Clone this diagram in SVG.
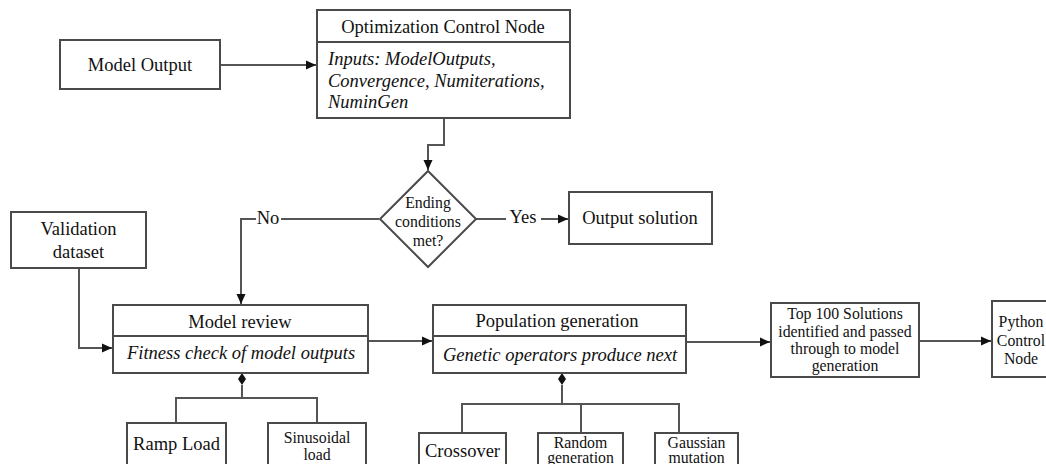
<svg xmlns="http://www.w3.org/2000/svg" width="1046" height="464" viewBox="0 0 1046 464">
<style>
.box{fill:#fff;stroke:#4a4a4a;stroke-width:2}
.ln{fill:none;stroke:#555;stroke-width:2}
text{font-family:'Liberation Serif','Times New Roman',serif;fill:#111;text-anchor:middle;dominant-baseline:central}
.l{font-size:18.5px}
.s{font-size:15.8px}
.i{font-style:italic;text-anchor:start}
.lbl{fill:#fff;stroke:none}
</style>
<defs>
<marker id="arr" markerUnits="userSpaceOnUse" markerWidth="12" markerHeight="10" refX="10" refY="5" orient="auto">
<path d="M0,0.5 L10,5 L0,9.5 z" fill="#111"/>
</marker>
</defs>
<rect width="1046" height="464" fill="#fff"/>

<g id="connectors">
<path class="ln" d="M220,65 H316" marker-end="url(#arr)"/>
<path class="ln" d="M444,118 V145 H428 V170" marker-end="url(#arr)"/>
<path class="ln" d="M379,219 H241 V304" marker-end="url(#arr)"/>
<rect class="lbl" x="256" y="208" width="25" height="22"/>
<text class="l" x="268" y="218">No</text>
<path class="ln" d="M476,219 H568" marker-end="url(#arr)"/>
<rect class="lbl" x="506" y="207" width="35" height="22"/>
<text class="l" x="523" y="217">Yes</text>
<path class="ln" d="M79,268 V348 H112" marker-end="url(#arr)"/>
<path class="ln" d="M368,341 H432" marker-end="url(#arr)"/>
<path class="ln" d="M686,342 H770" marker-end="url(#arr)"/>
<path class="ln" d="M919,341 H991" marker-end="url(#arr)"/>
<path class="ln" d="M242,385 V398 M176,423 V398 H317 V423"/>
<path d="M242,373 L246,379 L242,385 L238,379 z" fill="#111"/>
<path class="ln" d="M562,385 V404 M462,433 V404 H679 V433 M581,404 V433"/>
<path d="M562,373 L566,379 L562,385 L558,379 z" fill="#111"/>
</g>

<g id="model-output">
<rect class="box" x="60" y="40" width="160" height="49"/>
<text class="l" x="140" y="65">Model Output</text>
</g>

<g id="optimization-control-node">
<rect class="box" x="317" y="10" width="253" height="108"/>
<line x1="317" y1="42" x2="570" y2="42" stroke="#4a4a4a" stroke-width="2"/>
<text class="l" x="443" y="27">Optimization Control Node</text>
<text class="l i" x="328" y="59">Inputs: ModelOutputs,</text>
<text class="l i" x="328" y="81">Convergence, Numiterations,</text>
<text class="l i" x="328" y="102">NuminGen</text>
</g>

<g id="ending-conditions">
<path class="box" d="M428,171 L476,219 L428,267 L380,219 z"/>
<text class="s" x="428" y="202">Ending</text>
<text class="s" x="428" y="221">conditions</text>
<text class="s" x="428" y="240">met?</text>
</g>

<g id="output-solution">
<rect class="box" x="569" y="192" width="143" height="52"/>
<text class="l" x="640" y="218">Output solution</text>
</g>

<g id="validation-dataset">
<rect class="box" x="11" y="212" width="135" height="56"/>
<text class="l" x="78.5" y="229">Validation</text>
<text class="l" x="78.5" y="252">dataset</text>
</g>

<g id="model-review">
<rect class="box" x="113" y="305" width="255" height="68"/>
<line x1="113" y1="336" x2="368" y2="336" stroke="#4a4a4a" stroke-width="2"/>
<text class="l" x="240" y="322">Model review</text>
<text class="l i" x="127" y="353">Fitness check of model outputs</text>
</g>

<g id="population-generation">
<rect class="box" x="433" y="305" width="253" height="68"/>
<line x1="433" y1="336" x2="686" y2="336" stroke="#4a4a4a" stroke-width="2"/>
<text class="l" x="557" y="321">Population generation</text>
<text class="l i" x="443" y="355">Genetic operators produce next</text>
</g>

<g id="top-100">
<rect class="box" x="771" y="303" width="148" height="74"/>
<text class="s" x="845" y="313">Top 100 Solutions</text>
<text class="s" x="845" y="331">identified and passed</text>
<text class="s" x="845" y="348">through to model</text>
<text class="s" x="845" y="365">generation</text>
</g>

<g id="python-control-node">
<rect class="box" x="992" y="301" width="62" height="76"/>
<text class="s" x="1021" y="321">Python</text>
<text class="s" x="1021" y="340">Control</text>
<text class="s" x="1021" y="358">Node</text>
</g>

<g id="ramp-load">
<rect class="box" x="127" y="423" width="99" height="55"/>
<text class="l" x="176.5" y="444">Ramp Load</text>
</g>

<g id="sinusoidal-load">
<rect class="box" x="268" y="423" width="98" height="55"/>
<text class="s" x="317" y="437">Sinusoidal</text>
<text class="s" x="317" y="454">load</text>
</g>

<g id="crossover">
<rect class="box" x="419" y="433" width="87" height="45"/>
<text class="l" x="462.5" y="451">Crossover</text>
</g>

<g id="random-generation">
<rect class="box" x="538" y="433" width="85" height="45"/>
<text class="s" x="580.5" y="442">Random</text>
<text class="s" x="580.5" y="457">generation</text>
</g>

<g id="gaussian-mutation">
<rect class="box" x="655" y="433" width="83" height="45"/>
<text class="s" x="696.5" y="442">Gaussian</text>
<text class="s" x="696.5" y="457">mutation</text>
</g>
</svg>
